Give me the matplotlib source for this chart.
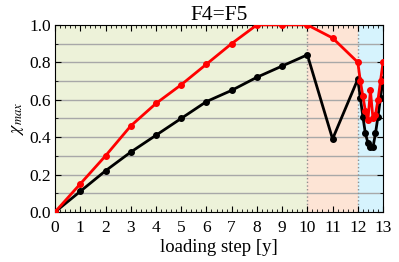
import numpy as np
import matplotlib.pyplot as plt
from matplotlib.ticker import MultipleLocator

plt.rcParams['font.family'] = ['Liberation Serif', 'DejaVu Serif']
plt.rcParams['mathtext.fontset'] = 'stix'

steps = [0, 1, 2, 3, 4, 5, 6, 7, 8, 9, 10, 11,
         12.0, 12.1, 12.2, 12.3, 12.4, 12.5, 12.6, 12.7, 12.8, 12.9, 13.0]
red_vals = [0, 0.15, 0.30, 0.46, 0.58, 0.68, 0.79, 0.90, 1.0, 1.0, 1.0, 0.93,
            0.80, 0.70, 0.62, 0.54, 0.49, 0.65, 0.50, 0.52, 0.60, 0.70, 0.80]
black_vals = [0, 0.11, 0.22, 0.32, 0.41, 0.50, 0.59, 0.65, 0.72, 0.78, 0.84, 0.39,
              0.71, 0.61, 0.51, 0.42, 0.37, 0.345, 0.345, 0.42, 0.51, 0.61, 0.71]
zones = [(0, 10, '#edf2d9'), (10, 12, '#fde4d5'), (12, 13, '#d6f3fd')]

fig = plt.figure(figsize=(3.99, 2.62), dpi=100)
ax = fig.add_axes([0.138, 0.191, 0.822, 0.714])

for x0, x1, c in zones:
    ax.axvspan(x0, x1, color=c, zorder=0, lw=0)
for v in np.arange(0.1, 1.0, 0.1):
    ax.axhline(v, color='#a8a8a8', lw=1, zorder=1)
for v in [10, 12]:
    ax.axvline(v, color='#909090', lw=1, ls=':', zorder=1)

ax.plot(steps, red_vals, color='red', lw=2, marker='o', ms=4, zorder=3)
ax.plot(steps, black_vals, color='black', lw=2, marker='o', ms=4, zorder=2)

ax.set_xlim(0, 13)
ax.set_ylim(0, 1)
ax.set_xticks(range(14))
ax.set_yticks(np.arange(0, 1.01, 0.2))
ax.xaxis.set_minor_locator(MultipleLocator(0.2))
ax.yaxis.set_minor_locator(MultipleLocator(0.1))
ax.tick_params(which='both', direction='in', top=True, right=True, labelsize=12.5)
ax.tick_params(axis='x', pad=6)
ax.tick_params(axis='y', pad=3)
ax.tick_params(which='major', length=4)
ax.tick_params(which='minor', length=2)

ax.set_title('F4=F5', fontsize=15.5, pad=2)
ax.set_xlabel('loading step [y]', fontsize=13.5, labelpad=2)
ax.set_ylabel(r'$\chi_{max}$', fontsize=13, labelpad=2)

fig.savefig('out.png', dpi=100)
